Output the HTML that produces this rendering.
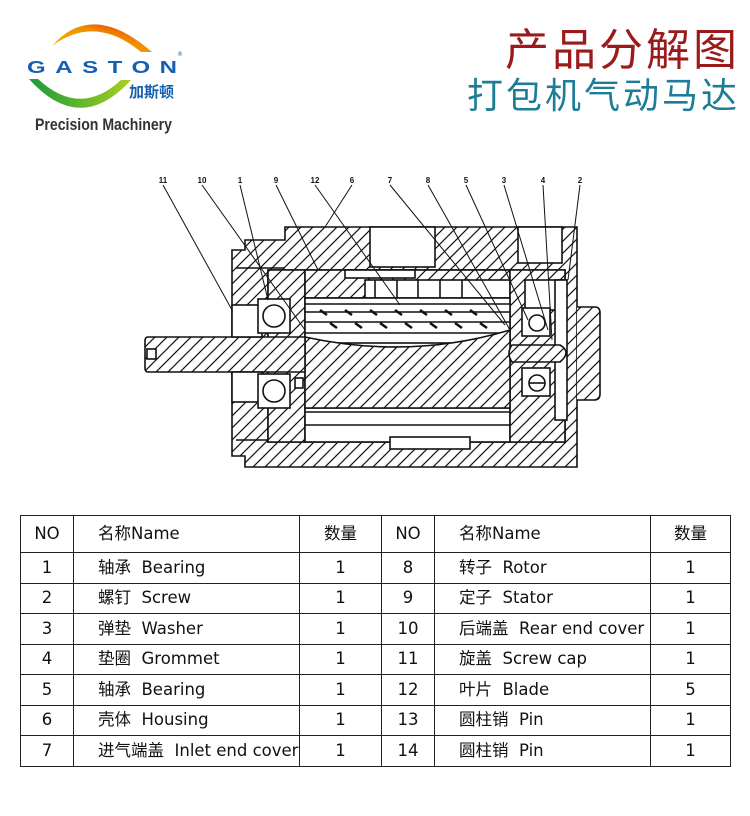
<!DOCTYPE html>
<html><head><meta charset="utf-8">
<style>
html,body{margin:0;padding:0;background:#fff;}
body{width:750px;height:816px;position:relative;overflow:hidden;font-family:"DejaVu Sans","Noto Sans CJK SC",sans-serif;}
.t1{position:absolute;right:10px;top:20px;font-size:44px;color:#9b1b1b;font-family:"Noto Sans CJK SC",sans-serif;letter-spacing:3px;line-height:52px;}
.t2{position:absolute;right:10px;top:70px;font-size:36px;color:#1e7d96;font-family:"Noto Sans CJK SC",sans-serif;letter-spacing:3px;line-height:46px;}
.tb{position:absolute;left:20px;top:515px;font-size:16.5px;color:#111;border-top:1.5px solid #222;border-left:1.5px solid #222;}
.r{display:flex;height:30.5px;}
.r.h{height:37px;}
.r>div{border-right:1.5px solid #222;border-bottom:1.5px solid #222;display:flex;align-items:center;white-space:nowrap;overflow:hidden;line-height:1;}
.c{justify-content:center;}
.n{padding-left:24px;}
</style></head><body>
<svg width="750" height="140" style="position:absolute;left:0;top:0">
<defs>
<linearGradient id="og" x1="0" y1="1" x2="1" y2="0"><stop offset="0" stop-color="#f5c400"/><stop offset="0.6" stop-color="#f08a00"/><stop offset="1" stop-color="#e0201a"/></linearGradient>
<linearGradient id="gg" x1="0" y1="0" x2="1" y2="0"><stop offset="0" stop-color="#1a9a3a"/><stop offset="1" stop-color="#a8d020"/></linearGradient>
</defs>
<path d="M52,46 Q92,0 152,52 L141,52 Q95,14 52,46 Z" fill="url(#og)"/>
<path d="M29,79 Q80,136 131,80 L121,80 Q80,118 38,79 Z" fill="url(#gg)"/>
<g transform="translate(27,73) scale(1,0.72)">
<text x="0" y="0" font-family="Liberation Sans,sans-serif" font-size="24" font-weight="bold" fill="#1560b0" textLength="150" lengthAdjust="spacing">GASTON</text>
</g>
<text x="177" y="56" font-size="6" fill="#1560b0">®</text>
<text x="129" y="97" font-family="Noto Sans CJK SC,sans-serif" font-size="15" font-weight="bold" fill="#1560b0">加斯顿</text>
<text x="35" y="130" font-family="Liberation Sans,sans-serif" font-size="17" font-weight="bold" fill="#333" textLength="137" lengthAdjust="spacingAndGlyphs">Precision Machinery</text>
</svg>
<div class="t1">产品分解图</div>
<div class="t2">打包机气动马达</div>

<svg width="750" height="816" style="position:absolute;left:0;top:0" fill="none" stroke="#111" stroke-width="1.6">
<defs>
<pattern id="h" width="12" height="12" patternUnits="userSpaceOnUse">
<rect width="12" height="12" fill="#fff" stroke="none"/><path d="M-1,13 L13,-1 M-3,3 L3,-3 M9,15 L15,9" stroke="#111" stroke-width="1.2"/>
</pattern>
</defs>
<polygon points="285,227 577,227 577,467 245,467 245,456 232,456 232,250 245,250 245,240 285,240" fill="url(#h)"/>
<path d="M577,307 L595,307 Q600,307 600,313 L600,394 Q600,400 594,400 L577,400" fill="url(#h)"/>
<rect x="370" y="227" width="65" height="40" fill="#fff"/>
<rect x="518" y="227" width="44" height="36" fill="#fff"/>
<rect x="268" y="270" width="297" height="172" fill="#fff"/>
<line x1="236" y1="268" x2="285" y2="268"/>
<line x1="236" y1="440" x2="285" y2="440"/>
<polygon points="268,270 305,270 305,442 268,442" fill="url(#h)"/>
<rect x="305" y="270" width="205" height="28" fill="url(#h)"/>
<rect x="345" y="270" width="70" height="8" fill="#fff"/>
<rect x="365" y="280" width="145" height="18" fill="#fff"/>
<line x1="375" y1="280" x2="375" y2="298"/><line x1="397" y1="280" x2="397" y2="298"/><line x1="418" y1="280" x2="418" y2="298"/><line x1="440" y1="280" x2="440" y2="298"/><line x1="462" y1="280" x2="462" y2="298"/>
<rect x="305" y="408" width="205" height="34" fill="#fff"/>
<line x1="305" y1="412" x2="510" y2="412"/><line x1="305" y1="425" x2="510" y2="425"/>
<polygon points="510,270 565,270 565,442 510,442" fill="url(#h)"/>
<rect x="525" y="280" width="40" height="30" fill="#fff"/>
<rect x="555" y="280" width="12" height="140" fill="#fff"/>
<rect x="305" y="298" width="205" height="45" fill="#fff"/>
<line x1="305" y1="304" x2="510" y2="304"/><line x1="305" y1="312" x2="510" y2="312"/><line x1="305" y1="322" x2="510" y2="322"/><line x1="305" y1="333" x2="510" y2="333"/>
<g stroke-width="2.5">
<line x1="320" y1="310" x2="327" y2="315"/><line x1="345" y1="310" x2="352" y2="315"/><line x1="370" y1="310" x2="377" y2="315"/><line x1="395" y1="310" x2="402" y2="315"/><line x1="420" y1="310" x2="427" y2="315"/><line x1="445" y1="310" x2="452" y2="315"/><line x1="470" y1="310" x2="477" y2="315"/>
<line x1="330" y1="323" x2="337" y2="328"/><line x1="355" y1="323" x2="362" y2="328"/><line x1="380" y1="323" x2="387" y2="328"/><line x1="405" y1="323" x2="412" y2="328"/><line x1="430" y1="323" x2="437" y2="328"/><line x1="455" y1="323" x2="462" y2="328"/><line x1="480" y1="323" x2="487" y2="328"/>
</g>
<path d="M305,337 Q410,360 510,330 L510,408 L305,408 Z" fill="url(#h)"/>
<path d="M148,337 L305,337 L305,372 L148,372 Q145,372 145,368 L145,341 Q145,337 148,337 Z" fill="url(#h)"/>
<rect x="147" y="349" width="9" height="10" fill="#fff"/>
<rect x="232" y="305" width="30" height="32" fill="#fff"/>
<rect x="232" y="372" width="30" height="30" fill="#fff"/>
<rect x="258" y="299" width="32" height="34" fill="#fff"/><circle cx="274" cy="316" r="11"/>
<rect x="258" y="374" width="32" height="34" fill="#fff"/><circle cx="274" cy="391" r="11"/>
<rect x="522" y="308" width="28" height="28" fill="#fff"/><circle cx="537" cy="323" r="8"/>
<rect x="522" y="368" width="28" height="28" fill="#fff"/><circle cx="537" cy="383" r="8"/><line x1="529" y1="383" x2="545" y2="383"/>
<path d="M512,345 L560,345 Q572,352 560,362 L512,362 Q506,353 512,345 Z" fill="url(#h)"/>
<rect x="295" y="378" width="8" height="10" fill="#fff"/>
<rect x="390" y="437" width="80" height="12" fill="#fff"/>
<g stroke-width="1">
<line x1="163" y1="185" x2="232" y2="310"/>
<line x1="202" y1="185" x2="305" y2="330"/>
<line x1="240" y1="185" x2="268" y2="300"/>
<line x1="276" y1="185" x2="318" y2="270"/>
<line x1="315" y1="185" x2="400" y2="305"/>
<line x1="352" y1="185" x2="325" y2="227"/>
<line x1="390" y1="185" x2="505" y2="325"/>
<line x1="428" y1="185" x2="510" y2="330"/>
<line x1="466" y1="185" x2="528" y2="320"/>
<line x1="504" y1="185" x2="548" y2="330"/>
<line x1="543" y1="185" x2="552" y2="340"/>
<line x1="580" y1="185" x2="568" y2="280"/>
</g>
<g font-family="Liberation Sans,sans-serif" font-size="8" font-weight="bold" fill="#111" stroke="none" text-anchor="middle">
<text x="163" y="183">11</text><text x="202" y="183">10</text><text x="240" y="183">1</text><text x="276" y="183">9</text><text x="315" y="183">12</text><text x="352" y="183">6</text><text x="390" y="183">7</text><text x="428" y="183">8</text><text x="466" y="183">5</text><text x="504" y="183">3</text><text x="543" y="183">4</text><text x="580" y="183">2</text>
</g>
</svg>

<div class="tb">
<div class="r h"><div class="c" style="width:52px">NO</div><div class="n" style="width:201px">名称Name</div><div class="c" style="width:81px">数量</div><div class="c" style="width:52px">NO</div><div class="n" style="width:191px">名称Name</div><div class="c" style="width:79px">数量</div></div>
<div class="r"><div class="c" style="width:52px">1</div><div class="n" style="width:201px">轴承&nbsp; Bearing</div><div class="c" style="width:81px">1</div><div class="c" style="width:52px">8</div><div class="n" style="width:191px">转子&nbsp; Rotor</div><div class="c" style="width:79px">1</div></div>
<div class="r"><div class="c" style="width:52px">2</div><div class="n" style="width:201px">螺钉&nbsp; Screw</div><div class="c" style="width:81px">1</div><div class="c" style="width:52px">9</div><div class="n" style="width:191px">定子&nbsp; Stator</div><div class="c" style="width:79px">1</div></div>
<div class="r"><div class="c" style="width:52px">3</div><div class="n" style="width:201px">弹垫&nbsp; Washer</div><div class="c" style="width:81px">1</div><div class="c" style="width:52px">10</div><div class="n" style="width:191px">后端盖&nbsp; Rear end cover</div><div class="c" style="width:79px">1</div></div>
<div class="r"><div class="c" style="width:52px">4</div><div class="n" style="width:201px">垫圈&nbsp; Grommet</div><div class="c" style="width:81px">1</div><div class="c" style="width:52px">11</div><div class="n" style="width:191px">旋盖&nbsp; Screw cap</div><div class="c" style="width:79px">1</div></div>
<div class="r"><div class="c" style="width:52px">5</div><div class="n" style="width:201px">轴承&nbsp; Bearing</div><div class="c" style="width:81px">1</div><div class="c" style="width:52px">12</div><div class="n" style="width:191px">叶片&nbsp; Blade</div><div class="c" style="width:79px">5</div></div>
<div class="r"><div class="c" style="width:52px">6</div><div class="n" style="width:201px">壳体&nbsp; Housing</div><div class="c" style="width:81px">1</div><div class="c" style="width:52px">13</div><div class="n" style="width:191px">圆柱销&nbsp; Pin</div><div class="c" style="width:79px">1</div></div>
<div class="r"><div class="c" style="width:52px">7</div><div class="n" style="width:201px">进气端盖&nbsp; Inlet end cover</div><div class="c" style="width:81px">1</div><div class="c" style="width:52px">14</div><div class="n" style="width:191px">圆柱销&nbsp; Pin</div><div class="c" style="width:79px">1</div></div>
</div>
</body></html>
